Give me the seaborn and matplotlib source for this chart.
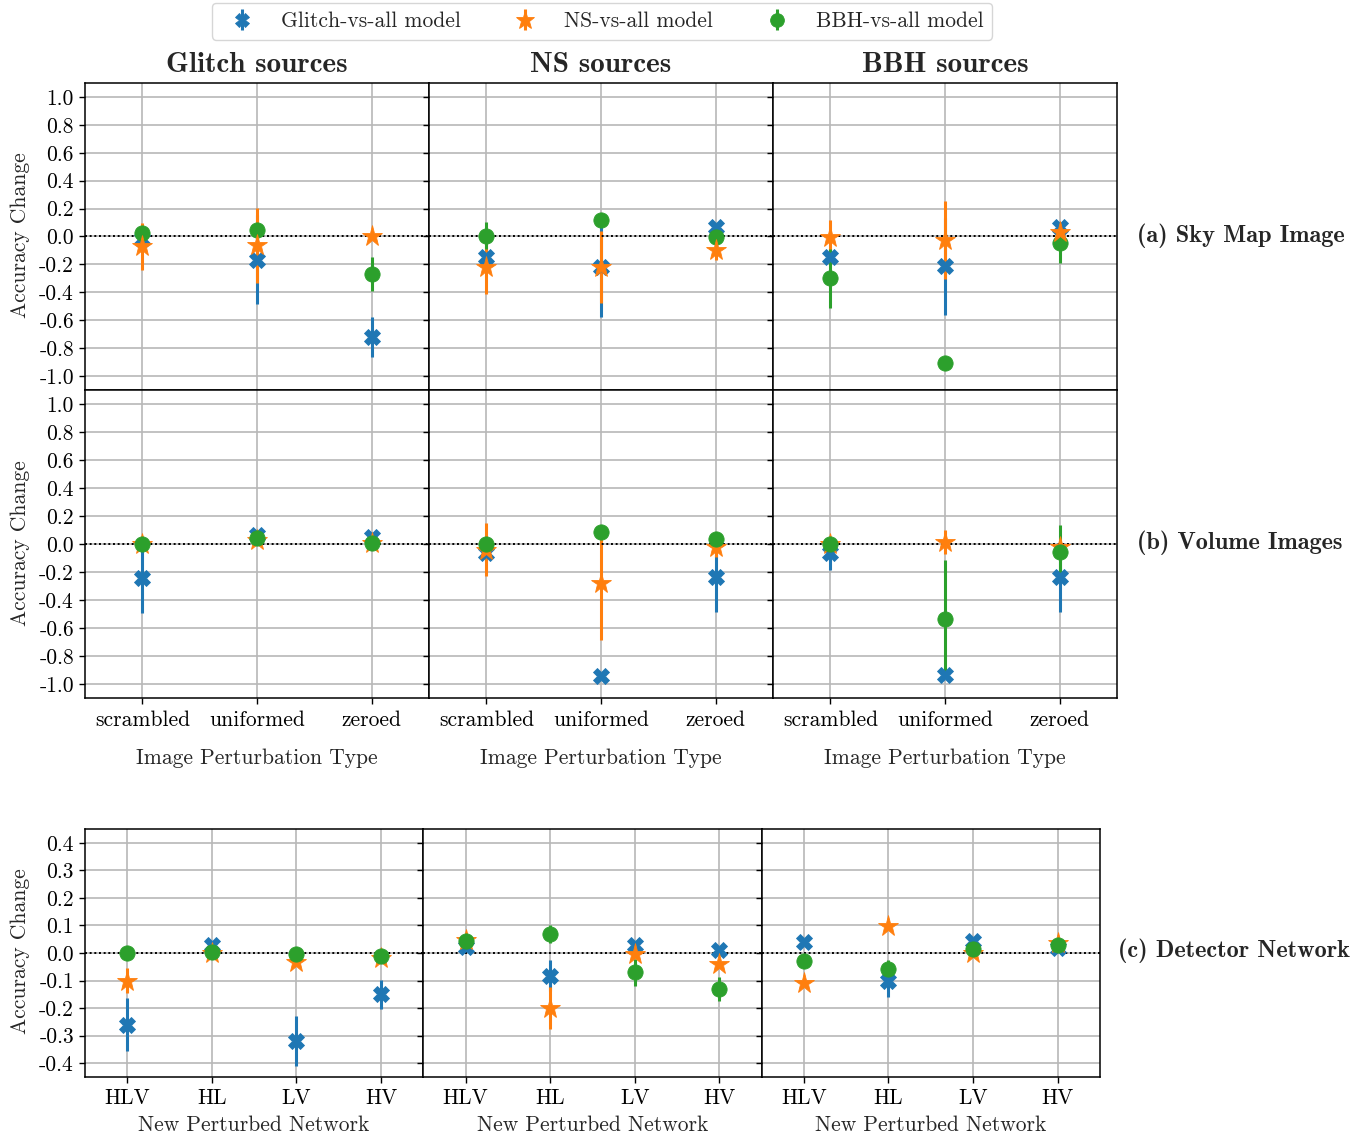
import numpy as np
import pandas as pd
import matplotlib
matplotlib.use("Agg")
import matplotlib.pyplot as plt
import seaborn as sns
from matplotlib.container import ErrorbarContainer
from matplotlib.lines import Line2D
from matplotlib.collections import LineCollection

# ---------------------------------------------------------------- data
models = ["Glitch-vs-all model", "NS-vs-all model", "BBH-vs-all model"]
sources = ["Glitch sources", "NS sources", "BBH sources"]
perturbations = ["scrambled", "uniformed", "zeroed"]
networks = ["HLV", "HL", "LV", "HV"]

# rows: Glitch-vs-all, NS-vs-all, BBH-vs-all ; columns: categories
# (a) Sky Map Image
sky_glitch_mean = [[-0.02, -0.167, -0.72], [-0.07, -0.064, 0.0], [0.024, 0.05, -0.27]]
sky_glitch_err = [[0.05, 0.32, 0.14], [0.17, 0.27, 0.02], [0.03, 0.03, 0.12]]
sky_ns_mean = [[-0.148, -0.22, 0.067], [-0.22, -0.22, -0.095], [0.007, 0.12, -0.005]]
sky_ns_err = [[0.03, 0.36, 0.02], [0.19, 0.26, 0.075], [0.10, 0.0, 0.10]]
sky_bbh_mean = [[-0.15, -0.214, 0.067], [-0.005, -0.024, 0.03], [-0.30, -0.905, -0.045]]
sky_bbh_err = [[0.03, 0.35, 0.02], [0.12, 0.28, 0.03], [0.21, 0.0, 0.145]]

# (b) Volume Images
vol_glitch_mean = [[-0.24, 0.064, 0.05], [0.0, 0.03, 0.005], [0.0, 0.04, 0.005]]
vol_glitch_err = [[0.25, 0.0, 0.0], [0.02, 0.0, 0.0], [0.0, 0.0, 0.0]]
vol_ns_mean = [[-0.067, -0.943, -0.233], [-0.04, -0.276, -0.02], [0.0, 0.083, 0.036]]
vol_ns_err = [[0.03, 0.0, 0.255], [0.19, 0.41, 0.07], [0.0, 0.0, 0.0]]
vol_bbh_mean = [[-0.067, -0.936, -0.238], [0.0, 0.017, -0.02], [0.0, -0.536, -0.057]]
vol_bbh_err = [[0.12, 0.0, 0.245], [0.02, 0.085, 0.03], [0.0, 0.42, 0.19]]

# (c) Detector Network
net_glitch_mean = [[-0.26, 0.03, -0.32, -0.15], [-0.10, 0.0, -0.034, -0.017], [0.0, 0.005, -0.004, -0.01]]
net_glitch_err = [[0.095, 0.0, 0.09, 0.052], [0.045, 0.0, 0.0, 0.0], [0.0, 0.0, 0.0, 0.0]]
net_ns_mean = [[0.02, -0.082, 0.03, 0.011], [0.047, -0.2, -0.005, -0.041], [0.045, 0.07, -0.07, -0.13]]
net_ns_err = [[0.0, 0.055, 0.0, 0.0], [0.0, 0.077, 0.0, 0.0], [0.0, 0.032, 0.05, 0.043]]
net_bbh_mean = [[0.039, -0.10, 0.045, 0.017], [-0.11, 0.098, 0.0, 0.035], [-0.03, -0.058, 0.013, 0.03]]
net_bbh_err = [[0.0, 0.06, 0.0, 0.0], [0.0, 0.0, 0.0, 0.0], [0.0, 0.033, 0.0, 0.0]]

colors = ["#1f77b4", "#ff7f0e", "#2ca02c"]
markers = ["X", "*", "o"]
marker_sizes = [11, 15.5, 11]

# ---------------------------------------------------------------- style
sns.set_style("white")
plt.rcParams.update({
    "font.family": ["cmr10", "DejaVu Serif"],
    "mathtext.fontset": "cm",
    "axes.formatter.use_mathtext": True,
    "font.size": 15.5,
    "axes.linewidth": 1.1,
    "axes.edgecolor": "black",
    "xtick.direction": "out",
    "ytick.direction": "out",
    "xtick.major.size": 4.5,
    "ytick.major.size": 4.5,
    "xtick.major.width": 1.0,
    "ytick.major.width": 1.0,
    "xtick.bottom": True,
    "ytick.left": True,
    "xtick.color": "black",
    "ytick.color": "black",
})

W, H = 1364, 1139
fig = plt.figure(figsize=(W / 100, H / 100), dpi=100)


def long_table(cats, means, errs):
    rows = []
    for m, mv, ev in zip(models, means, errs):
        for c, v, e in zip(cats, mv, ev):
            for y in (v - e, v, v + e):
                rows.append({"cat": c, "model": m, "change": y})
    return pd.DataFrame(rows)


def span(v):
    return (v.min(), v.max())


def draw_panel(ax, cats, means, errs, ylim, yticks, marker_order):
    df = long_table(cats, means, errs)
    for i, m in enumerate(models):
        sns.pointplot(
            data=df[df["model"] == m], x="cat", y="change", order=cats,
            estimator="mean", errorbar=span, color=colors[i],
            markers=markers[i], linestyles="none", capsize=0,
            linewidth=2.2, markersize=marker_sizes[i], markeredgewidth=0.6,
            err_kws={"linewidth": 2.2, "zorder": 2, "solid_capstyle": "butt"},
            zorder=3 + 0.1 * marker_order[i], ax=ax,
        )
    ax.axhline(0, color="black", ls=(0, (1, 1.4)), lw=1.4, zorder=2.5)
    ax.set_xlim(-0.5, len(cats) - 0.5)
    ax.set_ylim(*ylim)
    ax.set_yticks(yticks)
    ax.set_yticklabels([f"{t:.1f}".replace("-0.0", "0.0") for t in yticks])
    ax.grid(True, color="#b8b8b8", lw=1.2, zorder=0)
    ax.set_axisbelow(True)
    ax.set_xlabel("")
    ax.set_ylabel("")
    for s in ax.spines.values():
        s.set_visible(True)
        s.set_linewidth(1.1)
        s.set_color("black")


big_ticks = np.round(np.arange(-1.0, 1.01, 0.2), 1)
small_ticks = np.round(np.arange(-0.4, 0.41, 0.1), 1)

left = 85 / W
colw_ab = 344 / W
colw_c = 338.3 / W

rows_ab = [
    (1 - 390 / H, 307 / H,
     [(sky_glitch_mean, sky_glitch_err), (sky_ns_mean, sky_ns_err), (sky_bbh_mean, sky_bbh_err)],
     [0, 2, 1]),
    (1 - 698 / H, 308 / H,
     [(vol_glitch_mean, vol_glitch_err), (vol_ns_mean, vol_ns_err), (vol_bbh_mean, vol_bbh_err)],
     [0, 1, 2]),
]

for r, (bottom, height, panels, order) in enumerate(rows_ab):
    for c, (mean, err) in enumerate(panels):
        ax = fig.add_axes([left + c * colw_ab, bottom, colw_ab, height])
        draw_panel(ax, perturbations, mean, err, (-1.1, 1.1), big_ticks, order)
        if c > 0:
            ax.tick_params(axis="y", labelleft=False)
        if r == 0:
            ax.tick_params(axis="x", labelbottom=False)
            ax.set_title(sources[c], fontfamily="cmb10", fontsize=21, pad=8)
        else:
            ax.tick_params(axis="x", pad=4.5)
            ax.set_xlabel("Image Perturbation Type", labelpad=13)

net_panels = [(net_glitch_mean, net_glitch_err), (net_ns_mean, net_ns_err), (net_bbh_mean, net_bbh_err)]
for c, (mean, err) in enumerate(net_panels):
    ax = fig.add_axes([left + c * colw_c, 1 - 1077 / H, colw_c, 248 / H])
    draw_panel(ax, networks, mean, err, (-0.45, 0.45), small_ticks, [0, 1, 2])
    if c > 0:
        ax.tick_params(axis="y", labelleft=False)
    ax.tick_params(axis="x", pad=4)
    ax.set_xlabel("New Perturbed Network", labelpad=5)

# y labels, one per row
for yc in (235, 543, 951):
    fig.text(20 / W, 1 - yc / H, "Accuracy Change", rotation=90, ha="center", va="center")

# row labels
fig.text(1137 / W, 1 - 236 / H, "(a) Sky Map Image", fontfamily="cmb10", fontsize=17.5, ha="left", va="center")
fig.text(1137 / W, 1 - 543 / H, "(b) Volume Images", fontfamily="cmb10", fontsize=17.5, ha="left", va="center")
fig.text(1118 / W, 1 - 951 / H, "(c) Detector Network", fontfamily="cmb10", fontsize=17.5, ha="left", va="center")

# legend with errorbar-style handles
handles = []
for i, m in enumerate(models):
    mk = Line2D([], [], color=colors[i], marker=markers[i], ls="none",
                markersize=marker_sizes[i] * 0.9, markeredgewidth=0.6)
    bar = LineCollection([], colors=colors[i], linewidths=2.2)
    handles.append(ErrorbarContainer((mk, (), (bar,)), has_xerr=False, has_yerr=True, label=m))
fig.legend(handles=handles, labels=models, loc="upper center", ncol=3,
           bbox_to_anchor=(602 / W, 1 - 3 / H), borderaxespad=0, frameon=True,
           fontsize=15.5, handlelength=2.0, handletextpad=0.8, columnspacing=2.0,
           borderpad=0.4, fancybox=True, edgecolor="#cccccc")

fig.savefig("out.png", dpi=100)
